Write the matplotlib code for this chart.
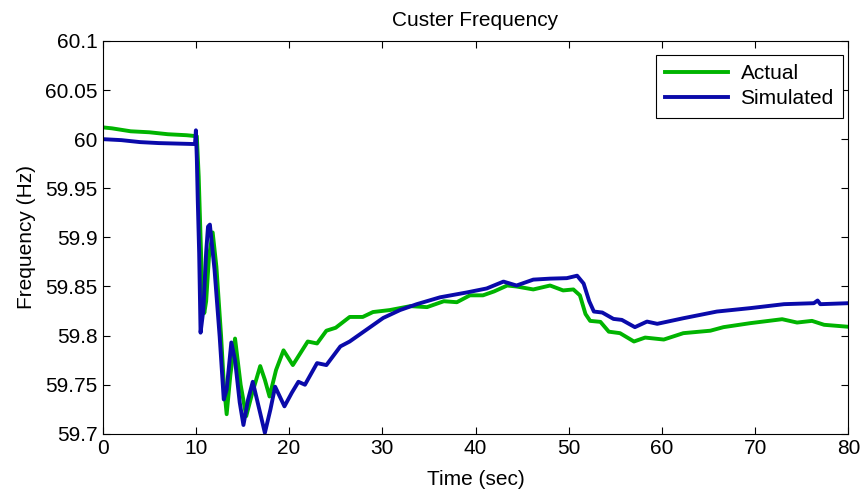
import numpy as np
import matplotlib
matplotlib.use('Agg')
import matplotlib.pyplot as plt
from matplotlib.ticker import FormatStrFormatter

plt.rcParams['font.family'] = ['Liberation Sans', 'DejaVu Sans']

# Actual (measured) cluster frequency
t_actual = [0, 1, 3, 5, 7, 9, 10.1, 10.3, 10.5, 10.7, 10.9, 11.1, 11.4, 11.8, 12.2, 12.7,
            13.0, 13.3, 13.7, 14.2, 14.8, 15.4, 16.0, 16.9, 17.4, 17.9, 18.6, 19.4,
            20.4, 21.2, 22.0, 23.0, 24.0, 25.0, 26.5, 27.9, 29.0, 30.8, 33.0, 34.8,
            36.6, 38.0, 39.4, 40.8, 42.0, 43.4, 44.4, 46.2, 48.0, 49.4, 50.5, 51.2,
            51.8, 52.3, 53.4, 54.3, 55.5, 57.0, 58.2, 60.2, 62.3, 65.2, 66.6, 69.5,
            72.9, 74.5, 76.1, 77.4, 80]
f_actual = [60.012, 60.011, 60.008, 60.007, 60.005, 60.004, 60.003, 59.962, 59.90, 59.84,
            59.823, 59.835, 59.88, 59.905, 59.87, 59.80, 59.75, 59.72, 59.76, 59.797,
            59.75, 59.718, 59.74, 59.769, 59.755, 59.738, 59.765, 59.785, 59.770,
            59.782, 59.794, 59.792, 59.805, 59.808, 59.819, 59.819, 59.824, 59.826,
            59.830, 59.829, 59.835, 59.834, 59.841, 59.841, 59.845, 59.851, 59.850,
            59.847, 59.851, 59.846, 59.847, 59.841, 59.822, 59.815, 59.814, 59.804,
            59.8025, 59.794, 59.798, 59.796, 59.8025, 59.805, 59.8086, 59.8127,
            59.8167, 59.8133, 59.815, 59.811, 59.809]

# Simulated cluster frequency
t_sim = [0, 2, 4, 6, 9.9, 10.0, 10.1, 10.2, 10.35, 10.5, 10.8, 11.1, 11.3, 11.5, 12.0,
         12.55, 12.99, 13.3, 13.8, 14.2, 14.7, 15.1, 15.6, 16.1, 16.8, 17.4, 18.0,
         18.5, 19.5, 20.3, 21.0, 21.7, 23.0, 24.0, 25.5, 26.5, 28.3, 30.1, 31.9, 33.7,
         36.2, 39.1, 41.2, 43.0, 44.4, 46.2, 48.0, 49.8, 50.9, 51.6, 52.2, 52.7, 53.6,
         54.8, 55.7, 57.1, 58.4, 59.5, 62.3, 65.9, 69.5, 73.1, 76.3, 76.7, 77.0, 80]
f_sim = [60.0, 59.999, 59.997, 59.996, 59.995, 60.009, 59.98, 59.938, 59.884, 59.803,
         59.826, 59.885, 59.911, 59.913, 59.867, 59.799, 59.735, 59.745, 59.793, 59.775,
         59.732, 59.709, 59.735, 59.753, 59.725, 59.701, 59.725, 59.748, 59.728, 59.742,
         59.753, 59.750, 59.772, 59.770, 59.789, 59.794, 59.806, 59.818, 59.826, 59.832,
         59.839, 59.844, 59.848, 59.855, 59.851, 59.857, 59.858, 59.8585, 59.861, 59.853,
         59.835, 59.8245, 59.8235, 59.817, 59.816, 59.8086, 59.8143, 59.812, 59.8177,
         59.8245, 59.828, 59.832, 59.833, 59.8357, 59.832, 59.833]

fig = plt.figure(figsize=(8.63, 4.93), dpi=100)
ax = fig.add_axes([0.119, 0.12, 0.864, 0.797])

ax.plot(t_actual, f_actual, color='#00b400', lw=2.8, label='Actual')
ax.plot(t_sim, f_sim, color='#0a0aaa', lw=2.8, label='Simulated')

ax.set_xlim(0, 80)
ax.set_ylim(59.7, 60.1)
ax.set_yticks(np.arange(59.7, 60.1001, 0.05))
ax.yaxis.set_major_formatter(FormatStrFormatter('%g'))
ax.tick_params(direction='in', top=True, right=True, labelsize=15, length=5)
ax.set_xlabel('Time (sec)', fontsize=15, labelpad=9)
ax.set_ylabel('Frequency (Hz)', fontsize=15, labelpad=7)
ax.set_title('Custer Frequency', fontsize=15, pad=11)

leg = ax.legend(loc='upper right', bbox_to_anchor=(0.993, 0.965), borderaxespad=0,
                fontsize=15, fancybox=False, framealpha=1, edgecolor='black',
                handlelength=3.0, handletextpad=0.6, labelspacing=0.3, borderpad=0.45)
leg.get_frame().set_linewidth(0.8)

fig.savefig('out.png', dpi=100)
